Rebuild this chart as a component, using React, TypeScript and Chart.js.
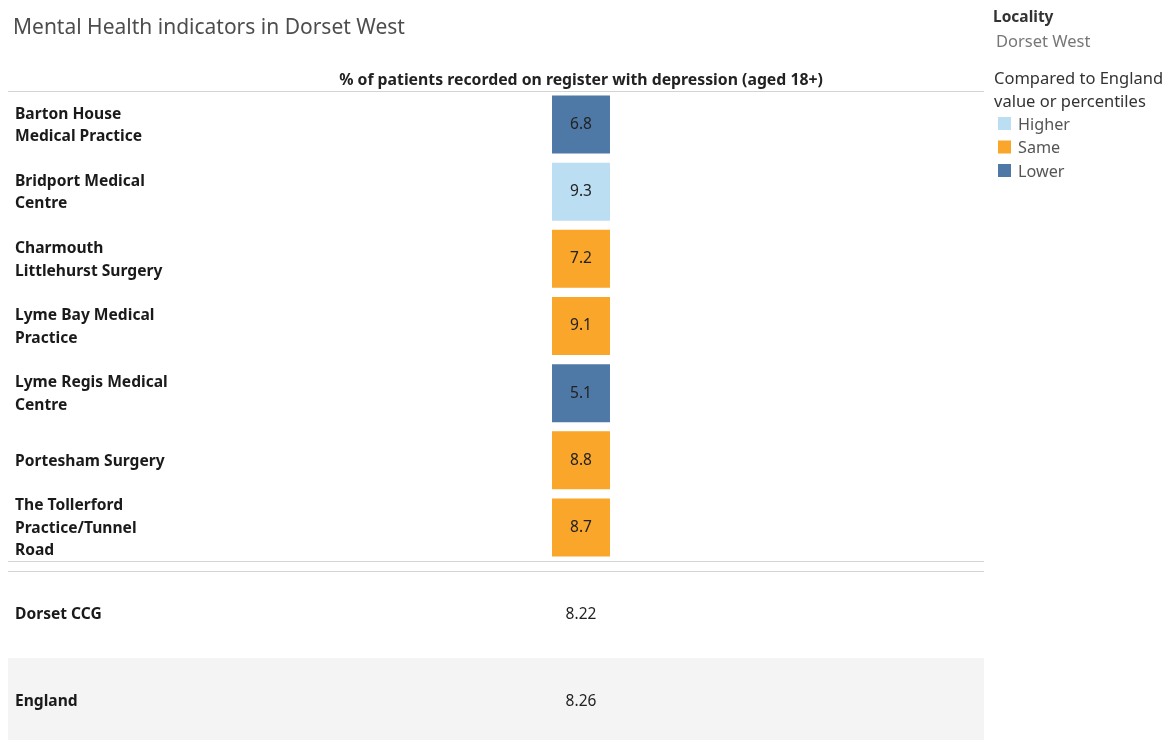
import React, { useEffect, useRef } from "react";
import { Chart, registerables } from "chart.js";

Chart.register(...registerables);

const TITLE = "Mental Health indicators in Dorset West";
const COLUMN = "% of patients recorded on register with depression (aged 18+)";
const PRACTICES = [
  ["Barton House", "Medical Practice"],
  ["Bridport Medical", "Centre"],
  ["Charmouth", "Littlehurst Surgery"],
  ["Lyme Bay Medical", "Practice"],
  ["Lyme Regis Medical", "Centre"],
  ["Portesham Surgery"],
  ["The Tollerford", "Practice/Tunnel", "Road"],
];
const VALUES = [6.8, 9.3, 7.2, 9.1, 5.1, 8.8, 8.7];
const COMPARED = ["Lower", "Higher", "Same", "Same", "Lower", "Same", "Same"];
const SUMMARY_LABELS = ["Dorset CCG", "England"];
const SUMMARY_VALUES = ["8.22", "8.26"];
const LEGEND_ITEMS = ["Higher", "Same", "Lower"];
const COLORS: Record<string, string> = {
  Higher: "#bcdef2",
  Same: "#f9a62b",
  Lower: "#4e79a7",
};

const FONT = "'Noto Sans', sans-serif";

export default function App() {
  const ref = useRef<HTMLCanvasElement | null>(null);
  useEffect(() => {
    const canvas = ref.current!;
    const rowKeys = PRACTICES.map((p) => p.join(" "));
    const tablePlugin = {
      id: "tablePlugin",
      beforeDatasetsDraw(chart: any) {
        const ctx = chart.ctx as CanvasRenderingContext2D;
        const y = chart.scales.y;
        const x = chart.scales.x;
        const area = chart.chartArea;
        ctx.save();
        // Title
        ctx.fillStyle = "#4d4d4d";
        ctx.font = `21px ${FONT}`;
        ctx.textBaseline = "middle";
        ctx.textAlign = "left";
        ctx.fillText(TITLE, 13, 28);
        // column header
        const cx = x.getPixelForValue(0);
        ctx.fillStyle = "#222";
        ctx.font = `bold 15.8px ${FONT}`;
        ctx.textAlign = "center";
        ctx.fillText(COLUMN, cx, 80);
        // lines
        ctx.strokeStyle = "#d4d4d4";
        ctx.lineWidth = 1;
        const line = (yy: number) => {
          ctx.beginPath();
          ctx.moveTo(8, yy + 0.5);
          ctx.lineTo(area.right, yy + 0.5);
          ctx.stroke();
        };
        line(area.top);
        line(area.bottom);
        line(area.bottom + 10);
        // row labels
        ctx.font = `bold 15.6px ${FONT}`;
        ctx.textAlign = "left";
        ctx.fillStyle = "#1a1a1a";
        PRACTICES.forEach((lines, i) => {
          const yc = y.getPixelForValue(i);
          const lh = 22.5;
          lines.forEach((t, j) => {
            ctx.fillText(t, 15, yc + 1 + (j - (lines.length - 1) / 2) * lh);
          });
        });
        // summary rows
        const rowH = 84;
        const s0 = area.bottom + 11;
        ctx.fillStyle = "#f4f4f4";
        ctx.fillRect(8, s0 + rowH + 2, area.right - 8, rowH);
        SUMMARY_LABELS.forEach((lab, i) => {
          const yc = s0 + 43 + i * 87;
          ctx.fillStyle = "#1a1a1a";
          ctx.font = `bold 15.6px ${FONT}`;
          ctx.textAlign = "left";
          ctx.fillText(lab, 15, yc);
          ctx.font = `15.5px ${FONT}`;
          ctx.textAlign = "center";
          ctx.fillStyle = "#222";
          ctx.fillText(SUMMARY_VALUES[i], cx, yc);
        });
        // legend
        ctx.textAlign = "left";
        ctx.fillStyle = "#333";
        ctx.font = `bold 15.5px ${FONT}`;
        ctx.fillText("Locality", 993, 18);
        ctx.font = `16.5px ${FONT}`;
        ctx.fillStyle = "#777";
        ctx.fillText("Dorset West", 996, 42);
        ctx.fillStyle = "#333";
        ctx.fillText("Compared to England", 994, 79);
        ctx.fillText("value or percentiles", 994, 102);
        ctx.font = `16.2px ${FONT}`;
        LEGEND_ITEMS.forEach((it, i) => {
          const yc = 124 + i * 23.5;
          ctx.fillStyle = COLORS[it];
          ctx.fillRect(998, yc - 7, 13, 13);
          ctx.fillStyle = "#555";
          ctx.fillText(it, 1018, yc + 1);
        });
        ctx.restore();
      },
      afterDatasetsDraw(chart: any) {
        const ctx = chart.ctx as CanvasRenderingContext2D;
        const meta = chart.getDatasetMeta(0);
        ctx.save();
        ctx.font = `15.5px ${FONT}`;
        ctx.fillStyle = "#222";
        ctx.textAlign = "center";
        ctx.textBaseline = "middle";
        meta.data.forEach((pt: any, i: number) => {
          ctx.fillText(VALUES[i].toFixed(1), pt.x, pt.y);
        });
        ctx.restore();
      },
    };
    const chart = new Chart(canvas, {
      type: "scatter",
      data: {
        datasets: [
          {
            data: VALUES.map((v, i) => ({ x: COLUMN, y: rowKeys[i], v })) as any,
            pointStyle: "rect",
            pointRadius: 41,
            pointHoverRadius: 41,
            pointBorderWidth: 0,
            borderWidth: 0,
            backgroundColor: COMPARED.map((c) => COLORS[c]),
            pointBackgroundColor: COMPARED.map((c) => COLORS[c]),
          } as any,
        ],
      },
      options: {
        responsive: false,
        animation: false,
        events: [],
        layout: { padding: { left: 178, right: 186, top: 91, bottom: 179 } },
        plugins: { legend: { display: false }, tooltip: { enabled: false } },
        scales: {
          x: { type: "category", labels: [COLUMN], offset: true, display: false },
          y: { type: "category", labels: rowKeys, offset: true, display: false },
        },
      },
      plugins: [tablePlugin],
    });
    return () => chart.destroy();
  }, []);
  return (
    <div style={{ position: "absolute", left: 0, top: 0, width: 1170, height: 740, background: "#fff" }}>
      <canvas ref={ref} width={1170} height={740} style={{ display: "block" }} />
    </div>
  );
}
